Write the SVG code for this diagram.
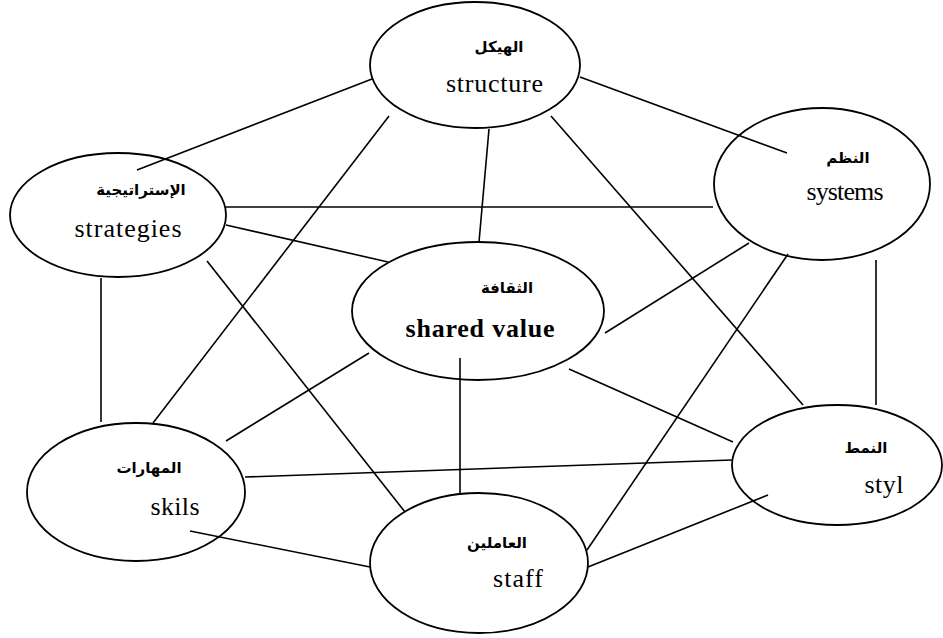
<svg xmlns="http://www.w3.org/2000/svg" width="943" height="638" viewBox="0 0 943 638">
<style>
  .node { fill: none; stroke: #000; stroke-width: 1.8; }
  .conn line { stroke: #000; stroke-width: 1.6; }
  .ar { font-family: "DejaVu Sans", "Noto Sans", sans-serif; font-weight: bold; font-size: 15px; text-anchor: middle; fill: #000; }
  .en { font-family: "Liberation Serif", "Times New Roman", serif; font-size: 26px; text-anchor: middle; fill: #000; }
  .bold { font-weight: bold; }
</style>
<rect width="943" height="638" fill="#fff"/>
<g id="connectors" class="conn">
  <line x1="137" y1="170" x2="372" y2="79"/>
  <line x1="580" y1="77" x2="787" y2="153"/>
  <line x1="226" y1="207" x2="713" y2="207"/>
  <line x1="226" y1="225" x2="388" y2="262"/>
  <line x1="101" y1="278" x2="101" y2="422"/>
  <line x1="207" y1="261" x2="405" y2="512"/>
  <line x1="389" y1="116" x2="153" y2="423"/>
  <line x1="489" y1="129" x2="479" y2="242"/>
  <line x1="551" y1="116" x2="803" y2="405"/>
  <line x1="749" y1="243" x2="605" y2="333"/>
  <line x1="788" y1="254" x2="587" y2="550"/>
  <line x1="876" y1="260" x2="876" y2="405"/>
  <line x1="369" y1="353" x2="226" y2="441"/>
  <line x1="460" y1="358" x2="460" y2="495"/>
  <line x1="569" y1="369" x2="733" y2="442"/>
  <line x1="245" y1="477" x2="732" y2="460"/>
  <line x1="190" y1="531" x2="370" y2="567"/>
  <line x1="588" y1="567" x2="768" y2="495"/>
</g>
<g id="structure">
  <ellipse class="node" cx="475" cy="65" rx="105" ry="63"/>
  <text class="ar" x="499" y="52">الهيكل</text>
  <text class="en" x="494.5" y="92" textLength="97" lengthAdjust="spacing">structure</text>
</g>
<g id="strategies">
  <ellipse class="node" cx="118" cy="215" rx="108" ry="62"/>
  <text class="ar" x="141" y="195">الإستراتيجية</text>
  <text class="en" x="128" y="237" textLength="107" lengthAdjust="spacing">strategies</text>
</g>
<g id="systems">
  <ellipse class="node" cx="822" cy="184" rx="108" ry="76"/>
  <text class="ar" x="848" y="163">النظم</text>
  <text class="en" x="845" y="200" textLength="77" lengthAdjust="spacing">systems</text>
</g>
<g id="shared-value">
  <ellipse class="node" cx="478" cy="311" rx="126" ry="69"/>
  <text class="ar" x="507" y="293">الثقافة</text>
  <text class="en bold" x="480" y="337" textLength="149" lengthAdjust="spacing">shared value</text>
</g>
<g id="skils">
  <ellipse class="node" cx="136" cy="492" rx="109" ry="69"/>
  <text class="ar" x="149" y="473">المهارات</text>
  <text class="en" x="175" y="515" textLength="49" lengthAdjust="spacing">skils</text>
</g>
<g id="staff">
  <ellipse class="node" cx="479" cy="563" rx="109" ry="70"/>
  <text class="ar" x="497" y="548">العاملين</text>
  <text class="en" x="518" y="587" textLength="50" lengthAdjust="spacing">staff</text>
</g>
<g id="styl">
  <ellipse class="node" cx="837" cy="465" rx="105" ry="60"/>
  <text class="ar" x="866" y="453">النمط</text>
  <text class="en" x="884" y="493" textLength="39" lengthAdjust="spacing">styl</text>
</g>
</svg>
